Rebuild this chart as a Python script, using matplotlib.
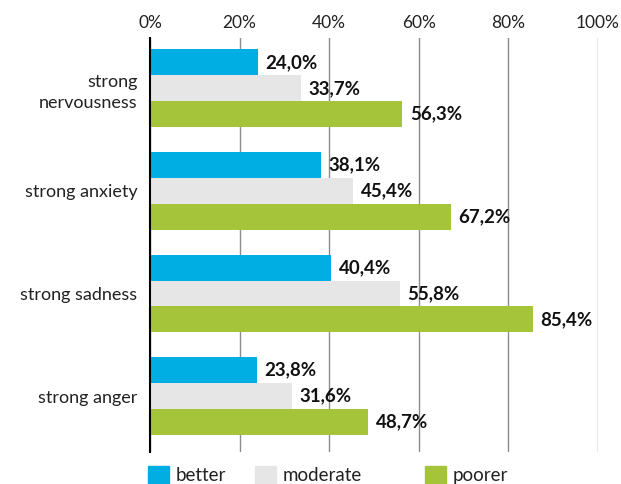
import matplotlib.pyplot as plt
from matplotlib.patches import Rectangle
import numpy as np

plt.rcParams['font.family'] = ['Lato', 'DejaVu Sans']

categories = ["strong\nnervousness", "strong anxiety", "strong sadness", "strong anger"]
series = ["better", "moderate", "poorer"]
better = [24.0, 38.1, 40.4, 23.8]
moderate = [33.7, 45.4, 55.8, 31.6]
poorer = [56.3, 67.2, 85.4, 48.7]
colors = ["#00AEE4", "#E6E6E6", "#A6C43A"]

fig = plt.figure(figsize=(6.21, 4.84), dpi=100)
ax = fig.add_axes([0.2415, 0.066, 0.7215, 0.8555])

y = np.arange(len(categories))
h = 0.253
for i, (vals, col) in enumerate(zip([better, moderate, poorer], colors)):
    pos = y + (i - 1) * h
    ax.barh(pos, vals, height=h, color=col, zorder=3)
    for p, v in zip(pos, vals):
        ax.text(v + 1.7, p, f"{v:.1f}%".replace(".", ","), va="center", ha="left",
                fontsize=13.5, fontweight="bold", color="#111111", zorder=4)

ax.set_xlim(0, 100)
ax.set_ylim(3.545, -0.49)
ax.set_xticks(range(0, 101, 20))
ax.set_xticklabels([f"{t}%" for t in range(0, 101, 20)], fontsize=12.5, color="#222222")
ax.xaxis.tick_top()
ax.tick_params(axis="x", length=0, pad=5)
ax.set_yticks(y)
ax.set_yticklabels(categories, fontsize=13, color="#222222", linespacing=1.4)
ax.tick_params(axis="y", length=0, pad=9)
ax.grid(axis="x", color="#8c8c8c", lw=1, zorder=0)
for s in ["top", "right", "bottom"]:
    ax.spines[s].set_visible(False)
ax.spines["left"].set_color("black")
ax.spines["left"].set_linewidth(1.5)
ax.spines["left"].set_zorder(5)

# legend along the bottom
leg_x = [148, 255, 425]
for x0, name, col in zip(leg_x, series, colors):
    fig.add_artist(Rectangle((x0 / 621, 0), 21 / 621, 18 / 484,
                             transform=fig.transFigure, color=col))
    fig.text((x0 + 28) / 621, 0, name, fontsize=13.5, color="#222222",
             va="bottom", ha="left")

fig.savefig("out.png", dpi=100)
